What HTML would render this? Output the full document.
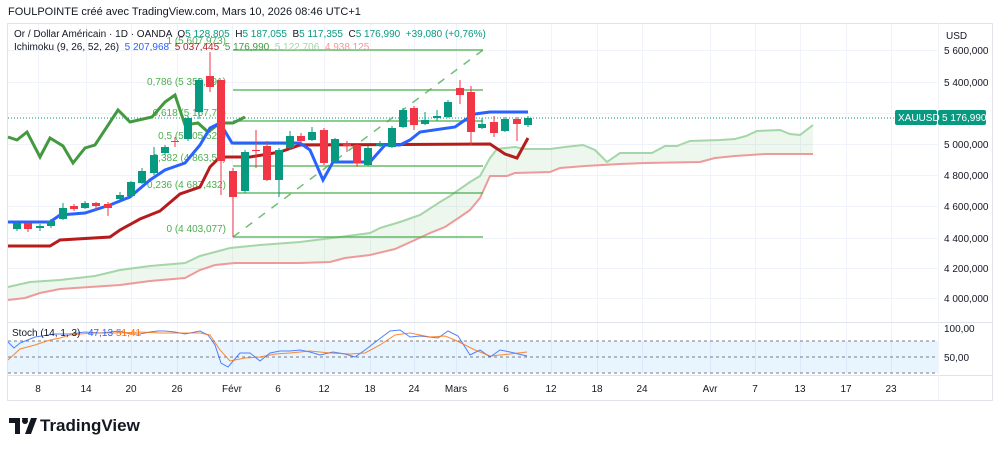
<!DOCTYPE html>
<html><head><meta charset="utf-8"><style>
body{margin:0;background:#fff;width:1000px;height:450px;overflow:hidden;font-family:"Liberation Sans",sans-serif}
svg text{font-family:"Liberation Sans",sans-serif}
</style></head><body>
<svg id="s" width="1000" height="450" viewBox="0 0 1000 450" xmlns="http://www.w3.org/2000/svg">
<rect width="1000" height="450" fill="#fff"/>
<g id="grid" stroke="#f0f3fa" stroke-width="1"></g>
<rect x="7.5" y="23.5" width="985" height="377" fill="none" stroke="#e0e3eb"/>
<line x1="7" y1="322.5" x2="992" y2="322.5" stroke="#e0e3eb"/>
<line x1="7" y1="375.5" x2="992" y2="375.5" stroke="#e0e3eb"/>
<line x1="938.5" y1="23" x2="938.5" y2="400" stroke="#f0f3fa"/>
<g id="cloud"></g>
<g id="fib"></g>
<g id="lines"></g>
<g id="candles"></g>
<g id="stoch"></g>
<g id="txt" font-size="11" fill="#131722"></g>
</svg>
<script>
const NS="http://www.w3.org/2000/svg";
function el(p,t,a,txt){const e=document.createElementNS(NS,t);for(const k in a)e.setAttribute(k,a[k]);if(txt!==undefined)e.textContent=txt;document.getElementById(p).appendChild(e);return e;}
const pl=a=>a.map(p=>p.join(',')).join(' ');
// grid
const dx=[38,86,131,177,232,278,324,370,414,456,506,551,597,642,710,755,800,846,891];
dx.forEach(x=>el('grid','line',{x1:x+.5,y1:24,x2:x+.5,y2:375}));
[50,82,113,144,175,206,238,268,298].forEach(y=>el('grid','line',{x1:8,y1:y+.5,x2:938,y2:y+.5}));
// cloud
const A=[[8,287],[30,282],[60,280],[95,276],[120,270],[150,266],[185,263],[200,256],[230,248],[260,245],[300,242],[340,237],[370,233],[380,228],[400,222],[420,215],[440,202],[450,196],[470,182],[480,176],[490,158],[497,149],[505,148],[515,147],[525,149],[550,149],[565,147],[583,145],[595,150],[607,162],[620,153],[652,153],[665,146],[677,146],[690,141],[720,140],[735,139],[746,136],[757,131],[780,130],[790,134],[800,135],[813,125]];
const B=[[8,300],[25,298],[40,293],[60,289],[90,287],[120,285],[150,281],[185,278],[200,270],[215,265],[235,263],[300,263],[330,262],[345,258],[370,255],[395,249],[415,240],[430,233],[445,227],[460,217],[470,210],[480,198],[490,176],[507,176],[515,173],[550,172],[560,168],[585,166],[620,164],[645,163],[700,162],[715,158],[735,156],[765,154],[813,154]];
el('cloud','polygon',{points:pl(A.concat(B.slice().reverse())),fill:'rgba(76,175,80,0.1)'});
el('cloud','polyline',{points:pl(A),fill:'none',stroke:'#a5d6a7','stroke-width':2});
el('cloud','polyline',{points:pl(B),fill:'none',stroke:'#ef9a9a','stroke-width':2});
// fib
[50,90,121,144,166,193,237].forEach(y=>el('fib','line',{x1:233,y1:y,x2:483,y2:y,stroke:'#4caf50','stroke-width':1.5,opacity:.85}));
el('fib','line',{x1:233,y1:237,x2:483,y2:50,stroke:'#4caf50','stroke-width':1.5,'stroke-dasharray':'8,8',opacity:.8});
[["1 (5 607,973)",40],["0,786 (5 359,891)",81],["0,618 (5 167,70)",112],["0,5 (5 005,526)",135],["0,382 (4 863,54)",157],["0,236 (4 687,432)",184],["0 (4 403,077)",228]].forEach(([t,y])=>el('fib','text',{x:226,y:y+4,'text-anchor':'end','font-size':10,fill:'#4caf50'},t));
// price dotted line
el('lines','line',{x1:8,y1:118,x2:938,y2:118,stroke:'#089981','stroke-width':1,'stroke-dasharray':'1,2'});
// chikou
const C=[[8,137],[17,140],[27,132],[40,157],[50,138],[63,146],[73,163],[85,148],[95,145],[118,110],[130,122],[152,117],[165,102],[175,95],[185,125],[198,123],[208,132],[220,123],[233,123],[245,117]];
el('lines','polyline',{points:pl(C),fill:'none',stroke:'#43993f','stroke-width':3});
const K=[[8,246],[50,246],[60,240],[110,237],[120,230],[140,219],[160,211],[180,194],[200,187],[210,167],[220,157],[250,157],[280,152],[300,145],[490,144],[505,154],[517,158],[528,138]];
el('lines','polyline',{points:pl(K),fill:'none',stroke:'#b71c1c','stroke-width':3});
const T=[[8,222],[50,222],[60,215],[85,213],[110,205],[130,197],[150,180],[165,170],[185,163],[200,145],[210,128],[220,123],[232,143],[300,143],[310,150],[323,180],[333,162],[370,162],[385,145],[400,145],[410,140],[420,132],[455,127],[465,120],[475,114],[490,112],[528,112]];
el('lines','polyline',{points:pl(T),fill:'none',stroke:'#2962ff','stroke-width':3});
// candles [x,open,close,high,low] in y px; green if close<open
const cd=[[17,229,223,221,231],[28,223,229,222,232],[40,228,226,224,231],[51,226,221,219,228],[63,219,208,203,220],[74,206,209,204,211],[85,208,203,201,209],[96,203,206,202,210],[108,204,208,202,216],[120,199,195,192,200],[131,196,182,181,197],[142,183,171,168,184],[154,173,155,147,175],[165,153,147,145,155],[175,141,142,137,147],[188,139,118,116,141],[199,112,80,78,119],[210,76,87,52,92],[221,80,161,80,195],[233,171,197,168,237],[245,191,152,150,193],[256,150,151,130,168],[267,146,180,141,181],[279,180,150,148,197],[290,148,136,131,150],[301,136,141,133,143],[312,140,132,127,141],[324,130,163,128,165],[335,162,139,138,163],[347,144,146,141,152],[357,145,163,143,167],[368,165,148,146,166],[380,146,143,141,147],[392,147,128,126,148],[403,127,110,108,128],[414,108,125,106,130],[425,124,120,112,125],[437,118,116,110,121],[448,117,102,100,118],[460,88,95,80,104],[471,92,132,86,145],[482,128,124,118,129],[494,122,133,116,137],[505,131,119,117,132],[517,119,124,117,141],[528,125,118,116,127]];
cd.forEach(([x,o,c,h,l])=>{const g=c<o,col=g?'#089981':'#f23645';
el('candles','line',{x1:x,y1:h,x2:x,y2:l,stroke:col,'stroke-width':1});
const t=Math.min(o,c),b=Math.max(o,c);el('candles','rect',{x:x-4,y:t,width:8,height:Math.max(1,b-t),fill:col});});
// stoch
el('stoch','rect',{x:8,y:341,width:930,height:32,fill:'rgba(33,150,243,0.1)'});
[341,357,373].forEach(y=>el('stoch','line',{x1:8,y1:y,x2:938,y2:y,stroke:'#787b86','stroke-dasharray':'3,3','stroke-width':1}));
const SK=[[8,342],[14,348],[20,343],[35,337],[55,334],[70,334],[85,332],[100,333],[120,331],[130,334],[140,334],[150,332],[158,331],[165,331],[175,332],[185,334],[190,333],[200,331],[208,335],[215,345],[221,363],[228,367],[240,353],[250,353],[260,361],[270,353],[280,351],[290,351],[300,350],[310,352],[320,355],[333,352],[345,354],[355,357],[365,350],[378,340],[390,331],[400,330],[410,337],[420,336],[438,338],[448,331],[458,336],[470,355],[480,350],[490,357],[500,350],[510,352],[527,356]];
const SD=[[8,360],[20,349],[35,345],[50,340],[60,338],[70,335],[80,334],[95,333],[120,333],[140,332],[160,333],[200,333],[210,335],[220,350],[230,361],[245,358],[260,357],[275,354],[290,353],[310,351],[330,353],[350,354],[365,353],[380,345],[395,335],[410,333],[430,337],[445,336],[455,340],[475,350],[490,356],[510,354],[527,352]];
el('stoch','polyline',{points:pl(SK),fill:'none',stroke:'#2962ff','stroke-width':1,opacity:.8});
el('stoch','polyline',{points:pl(SD),fill:'none',stroke:'#ff6d00','stroke-width':1,opacity:.8});
// text
el('txt','text',{x:12,y:336,'font-size':10},'Stoch (14, 1, 3)');
el('txt','text',{x:88,y:336,'font-size':10,fill:'#2962ff'},'47,13');
el('txt','text',{x:116,y:336,'font-size':10,fill:'#ff6d00'},'51,41');
el('txt','text',{x:944,y:332,'font-size':10},'100,00');
el('txt','text',{x:944,y:361,'font-size':10},'50,00');
const dl=['8','14','20','26','Févr','6','12','18','24','Mars','6','12','18','24','Avr','7','13','17','23'];
dl.forEach((t,i)=>el('txt','text',{x:dx[i],y:392,'text-anchor':'middle','font-size':10},t));
[["5 600,000",50],["5 400,000",82],["5 000,000",144],["4 800,000",175],["4 600,000",206],["4 400,000",238],["4 200,000",268],["4 000,000",298]].forEach(([t,y])=>el('txt','text',{x:944,y:y+4,'font-size':10},t));
el('txt','text',{x:946,y:39,'font-size':10},'USD');
el('txt','rect',{x:895,y:110,width:42,height:15,fill:'#089981',rx:2});
el('txt','rect',{x:938,y:110,width:48,height:15,fill:'#089981',rx:2});
el('txt','text',{x:898,y:121,'font-size':10,fill:'#fff'},'XAUUSD');
el('txt','text',{x:942,y:121,'font-size':10,fill:'#fff'},'5 176,990');
el('txt','text',{x:8,y:15,'font-size':11},'FOULPOINTE créé avec TradingView.com, Mars 10, 2026 08:46 UTC+1');
const l1=el('txt','text',{x:14,y:37,'font-size':10});
l1.innerHTML='Or / Dollar Américain · 1D · OANDA  O<tspan fill="#089981">5 128,805</tspan>  H<tspan fill="#089981">5 187,055</tspan>  B<tspan fill="#089981">5 117,355</tspan>  C<tspan fill="#089981">5 176,990  +39,080 (+0,76%)</tspan>';
l1.setAttribute('xml:space','preserve');l1.style.whiteSpace='pre';
const l2=el('txt','text',{x:14,y:50,'font-size':10});
l2.style.whiteSpace='pre';
l2.innerHTML='Ichimoku (9, 26, 52, 26)  <tspan fill="#2962ff">5 207,968</tspan>  <tspan fill="#b71c1c">5 037,445</tspan>  <tspan fill="#43993f">5 176,990</tspan>  <tspan fill="#a5d6a7">5 122,706</tspan>  <tspan fill="#ef9a9a">4 938,125</tspan>';
// logo
el('txt','text',{x:10,y:433,'font-size':18,'font-weight':'bold'},'𝗧𝗩');
</script>
<div style="position:absolute;left:8px;top:414px;width:28px;height:20px;background:#fff"></div>
<svg style="position:absolute;left:9px;top:418px" width="30" height="16" viewBox="0 0 30 16"><path d="M0 0h11v16H6V5H0z M13 0a3 3 0 1 1 0 .01z" fill="#131722"/><circle cx="16" cy="3" r="3" fill="#131722"/><path d="M22 0h6l-6 16h-6z" fill="#131722"/></svg>
<div style="position:absolute;left:40px;top:416px;font:bold 17px 'Liberation Sans',sans-serif;color:#131722">TradingView</div>
</body></html>
